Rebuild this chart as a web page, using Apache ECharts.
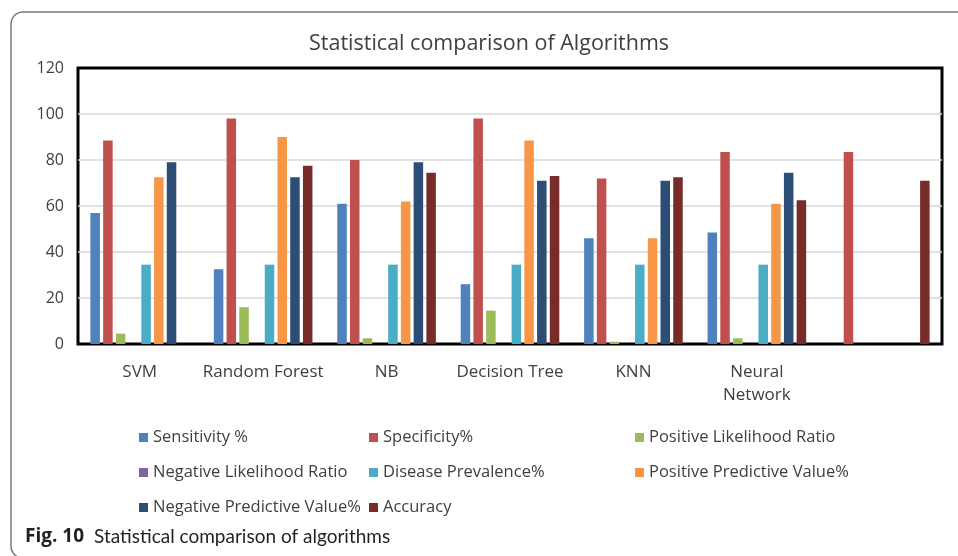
<!DOCTYPE html>
<html>
<head>
<meta charset="utf-8">
<script src="https://cdn.jsdelivr.net/npm/echarts@6/dist/echarts.min.js"></script>
<style>
  html, body { margin: 0; padding: 0; background: #fff; }
  #chart { width: 958px; height: 556px; }
</style>
</head>
<body>
<div id="chart"></div>
<script>
// categories (last group has no label in the original)
var categories = ['SVM', 'Random Forest', 'NB', 'Decision Tree', 'KNN', 'Neural\nNetwork', '']

// series values
var sensitivity = [57, 32.5, 61, 26, 46, 48.5, null]
var specificity = [88.5, 98, 80, 98, 72, 83.5, 83.5]
var posLikelihood = [4.5, 16, 2.5, 14.5, 1, 2.5, null]
var negLikelihood = [0, 0, 0, 0, 0, 0, null]
var prevalence = [34.5, 34.5, 34.5, 34.5, 34.5, 34.5, null]
var ppv = [72.5, 90, 62, 88.5, 46, 61, null]
var npv = [79, 72.5, 79, 71, 71, 74.5, null]
var accuracy = [null, 77.5, 74.5, 73, 72.5, 62.5, 71]

var yTicks = [0, 20, 40, 60, 80, 100, 120]

var names = [
  'Sensitivity %', 'Specificity%', 'Positive Likelihood Ratio',
  'Negative Likelihood Ratio', 'Disease Prevalence%', 'Positive Predictive Value%',
  'Negative Predictive Value%', 'Accuracy'
]
var values = [sensitivity, specificity, posLikelihood, negLikelihood, prevalence, ppv, npv, accuracy]
var colors = ['#4F81BD', '#C0504D', '#9BBB59', '#8064A2', '#4BACC6', '#F79646', '#2C4D75', '#772C2A']

var font = '"Open Sans", sans-serif'
var legendText = { color: '#404040', fontSize: 16.5, fontFamily: font }

function legendCol (left, data) {
  return {
    orient: 'vertical',
    left: left,
    top: 424,
    itemWidth: 9,
    itemHeight: 9,
    itemGap: 18,
    icon: 'rect',
    selectedMode: false,
    textStyle: legendText,
    data: data
  }
}

var series = names.map(function (n, i) {
  return {
    name: n,
    type: 'bar',
    barWidth: 9.5,
    barGap: '34%',
    itemStyle: { color: colors[i] },
    data: values[i]
  }
})

var chart = echarts.init(document.getElementById('chart'))
chart.setOption({
  animation: false,
  color: colors,
  title: [{
    text: 'Statistical comparison of Algorithms',
    left: 304,
    top: 28,
    textStyle: { color: '#404040', fontSize: 21.5, fontWeight: 'normal', fontFamily: font }
  }, {
    text: '{b|Fig. 10}  {n|Statistical comparison of algorithms}',
    left: 20,
    top: 522,
    textStyle: {
      rich: {
        b: { fontWeight: 'bold', fontSize: 19, color: '#231f20', fontFamily: font },
        n: { fontWeight: 'normal', fontSize: 19, color: '#231f20', fontFamily: 'Lato, sans-serif' }
      }
    }
  }],
  graphic: [{
    type: 'rect',
    shape: { x: 11, y: 12, width: 1000, height: 546, r: 12 },
    style: { fill: 'none', stroke: '#7a7a7a', lineWidth: 1.5 },
    silent: true
  }],
  legend: [
    legendCol(134, [names[0], names[3], names[6]]),
    legendCol(364, [names[1], names[4], names[7]]),
    legendCol(630, [names[2], names[5]])
  ],
  grid: {
    left: 78,
    right: 16,
    top: 68,
    bottom: 212,
    show: true,
    borderColor: '#000',
    borderWidth: 3
  },
  xAxis: {
    type: 'category',
    data: categories,
    axisLine: { show: false },
    axisTick: { show: false },
    axisLabel: { color: '#404040', fontSize: 17, fontFamily: font, margin: 17, lineHeight: 23, interval: 0 }
  },
  yAxis: {
    type: 'value',
    min: yTicks[0],
    max: yTicks[yTicks.length - 1],
    interval: 20,
    axisLine: { show: false },
    axisTick: { show: false },
    axisLabel: { color: '#404040', fontSize: 16, fontFamily: font, margin: 14 },
    splitLine: { showMinLine: false, showMaxLine: false, lineStyle: { color: '#d9d9d9', width: 1.5 } }
  },
  series: series
})
</script>
</body>
</html>
